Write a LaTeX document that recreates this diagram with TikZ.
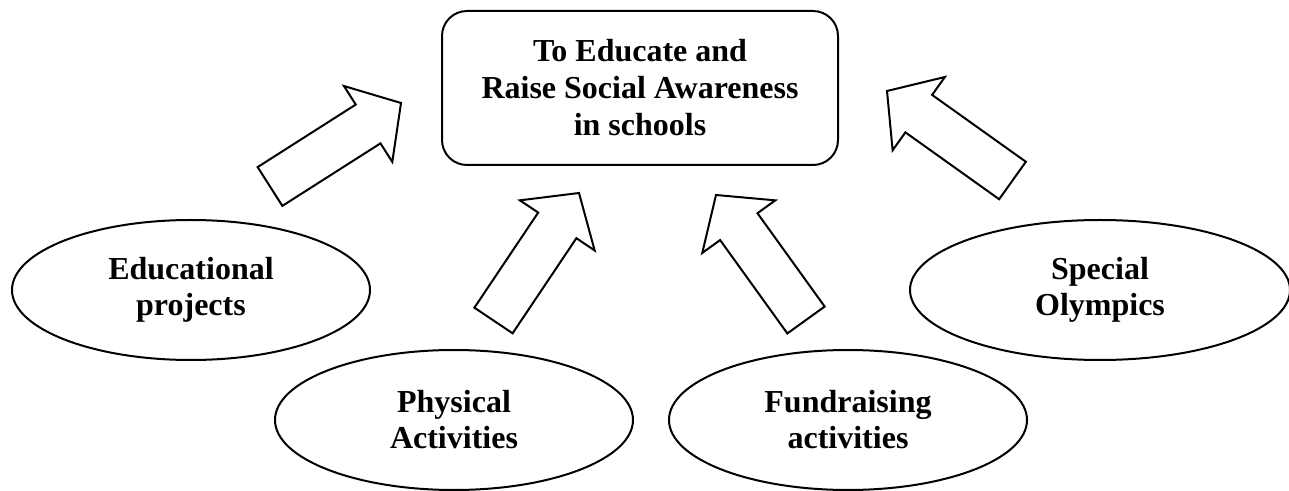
\documentclass[tikz,border=0pt]{standalone}
\usepackage{fontspec}
\setmainfont{Liberation Serif}
\usetikzlibrary{shapes.geometric,calc}

% one unit = half a point, y grows downwards
\tikzset{
  outline/.style={draw=black, line width=1pt},
  mainbox/.style={outline, rectangle, rounded corners=12.5pt,
    minimum width=198pt, minimum height=77pt, inner sep=0pt,
    align=center, font=\fontsize{16}{18.5}\selectfont\bfseries},
  oval/.style={outline, ellipse, minimum width=179pt, minimum height=70pt,
    inner sep=0pt, align=center, font=\fontsize{16}{18}\selectfont\bfseries},
  barrow/.style={outline, fill=white, line join=miter},
}

% hollow block arrow from a tail centre (#1) to a tip (#2)
\newcommand\blockarrow[2]{%
  \coordinate (#1-hb) at ($(#2)!19.5pt!(#1)$);
  \draw[barrow]
    ($(#1)!11.5pt!90:(#2)$) -- ($(#1-hb)!11.5pt!90:(#2)$)
    -- ($(#1-hb)!22.5pt!90:(#2)$) -- (#2)
    -- ($(#1-hb)!22.5pt!-90:(#2)$) -- ($(#1-hb)!11.5pt!-90:(#2)$)
    -- ($(#1)!11.5pt!-90:(#2)$) -- cycle;
}

\begin{document}
\begin{tikzpicture}[x=0.5pt, y=-0.5pt]
  \useasboundingbox (0,0) rectangle (1289,491);

  \node[mainbox] (goal) at (640,88)
    {To Educate and\\Raise Social Awareness\\in schools};

  \node[oval] (edu)  at (191,290)  {Educational\\projects};
  \node[oval] (phys) at (454,420)  {Physical\\Activities};
  \node[oval] (fund) at (848,420)  {Fundraising\\activities};
  \node[oval, minimum width=190pt] (spec) at (1100,290) {Special\\Olympics};

  \coordinate (a1) at (270,186.5);   \coordinate (b1) at (401,103);
  \coordinate (a2) at (493.5,320.5); \coordinate (b2) at (579,193);
  \coordinate (a3) at (806,320);     \coordinate (b3) at (716,195);
  \coordinate (a4) at (1012.5,180.5);\coordinate (b4) at (887,91);

  \blockarrow{a1}{b1}
  \blockarrow{a2}{b2}
  \blockarrow{a3}{b3}
  \blockarrow{a4}{b4}
\end{tikzpicture}
\end{document}
